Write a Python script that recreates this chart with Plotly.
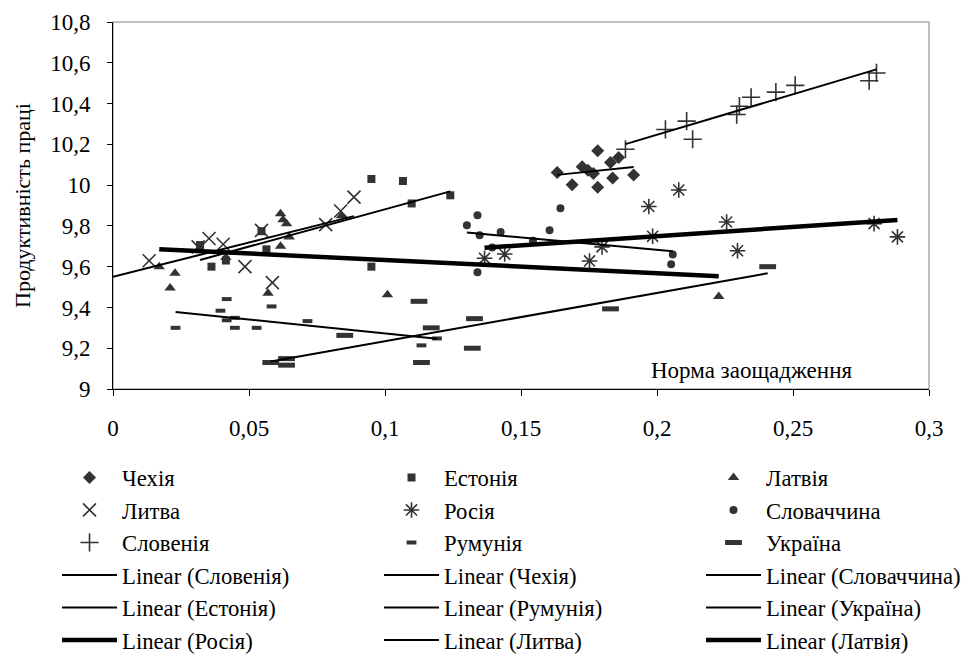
import numpy as np
import plotly.graph_objects as go

# ---------------- data ----------------
czech_x = [0.1633, 0.1688, 0.1725, 0.1746, 0.1766, 0.1782, 0.1782, 0.1829, 0.1837, 0.1859, 0.1914]
czech_y = [10.062, 10.002, 10.090, 10.073, 10.057, 10.168, 9.989, 10.111, 10.035, 10.135, 10.049]

estonia_x = [0.0320, 0.0362, 0.0415, 0.0546, 0.0564, 0.0950, 0.0950, 0.1066, 0.1098, 0.1240]
estonia_y = [9.706, 9.600, 9.630, 9.774, 9.685, 10.030, 9.600, 10.020, 9.910, 9.950]

latvia_x = [0.0170, 0.0210, 0.0228, 0.0415, 0.0570, 0.0616, 0.0616, 0.0625, 0.0638, 0.0648, 0.0840, 0.1009, 0.2227]
latvia_y = [9.600, 9.495, 9.568, 9.645, 9.470, 9.700, 9.860, 9.830, 9.810, 9.746, 9.850, 9.462, 9.454]

lithuania_x = [0.0133, 0.0313, 0.0353, 0.0405, 0.0485, 0.0546, 0.0586, 0.0782, 0.0837, 0.0886]
lithuania_y = [9.629, 9.697, 9.738, 9.710, 9.600, 9.778, 9.522, 9.806, 9.873, 9.941]

russia_x = [0.1366, 0.1440, 0.1752, 0.1798, 0.1970, 0.1984, 0.2080, 0.2256, 0.2296, 0.2798, 0.2884]
russia_y = [9.641, 9.662, 9.628, 9.697, 9.895, 9.749, 9.976, 9.819, 9.678, 9.811, 9.746]

slovakia_x = [0.1301, 0.1340, 0.1340, 0.1348, 0.1394, 0.1425, 0.1544, 0.1605, 0.1645, 0.2052, 0.2058]
slovakia_y = [9.803, 9.852, 9.573, 9.754, 9.694, 9.770, 9.727, 9.779, 9.887, 9.612, 9.660]

slovenia_x = [0.1884, 0.2031, 0.2109, 0.2131, 0.2293, 0.2303, 0.2346, 0.2437, 0.2508, 0.2780, 0.2807]
slovenia_y = [10.176, 10.273, 10.314, 10.225, 10.346, 10.387, 10.431, 10.456, 10.489, 10.512, 10.550]

romania_x = [0.0230, 0.0395, 0.0418, 0.0418, 0.0448, 0.0448, 0.0528, 0.0583, 0.0715, 0.1134, 0.1191]
romania_y = [9.300, 9.384, 9.441, 9.337, 9.349, 9.300, 9.300, 9.405, 9.333, 9.214, 9.248]

ukraine_x = [0.0580, 0.0638, 0.0638, 0.0852, 0.1125, 0.1134, 0.1170, 0.1321, 0.1329, 0.1829, 0.2407]
ukraine_y = [9.130, 9.149, 9.117, 9.263, 9.430, 9.130, 9.300, 9.200, 9.345, 9.393, 9.600]

series_names = ["Чехія", "Естонія", "Латвія", "Литва", "Росія", "Словаччина",
                "Словенія", "Румунія", "Україна"]
series_x = [czech_x, estonia_x, latvia_x, lithuania_x, russia_x, slovakia_x,
            slovenia_x, romania_x, ukraine_x]
series_y = [czech_y, estonia_y, latvia_y, lithuania_y, russia_y, slovakia_y,
            slovenia_y, romania_y, ukraine_y]

# order of trendlines in the legend
trend_order = ["Словенія", "Чехія", "Словаччина", "Естонія", "Румунія",
               "Україна", "Росія", "Литва", "Латвія"]
# Excel trendline option "forecast backward" (extends line to this x)
trend_backward_to = {"Литва": 0.0}

x_ticks = [0, 0.05, 0.1, 0.15, 0.2, 0.25, 0.3]
y_ticks = [9, 9.2, 9.4, 9.6, 9.8, 10, 10.2, 10.4, 10.6, 10.8]

# ---------------- styles ----------------
MC = "#333333"
FONT = "Liberation Serif"
marker_styles = {
    "Чехія": dict(symbol="diamond", size=10, color=MC),
    "Естонія": dict(symbol="square", size=8, color=MC),
    "Латвія": dict(symbol="triangle-up", size=10, color=MC),
    "Литва": dict(symbol="x-thin-open", size=13, color=MC, line=dict(width=1.6, color=MC)),
    "Росія": dict(symbol="asterisk-open", size=13, color=MC, line=dict(width=1.6, color=MC)),
    "Словаччина": dict(symbol="circle", size=8, color=MC),
    "Словенія": dict(symbol="cross-thin-open", size=13, color=MC, line=dict(width=1.6, color=MC)),
    "Румунія": dict(symbol="line-ew-open", size=7, color=MC, line=dict(width=4, color=MC)),
    "Україна": dict(symbol="line-ew-open", size=12, color=MC, line=dict(width=5, color=MC)),
}
thick = {"Росія", "Латвія"}
legends = ["legend", "legend2", "legend3"]

fig = go.Figure()

for i, name in enumerate(series_names):
    fig.add_trace(go.Scatter(
        x=series_x[i], y=series_y[i], mode="markers", name=name,
        marker=marker_styles[name], legend=legends[i % 3], cliponaxis=False,
    ))

for i, name in enumerate(trend_order):
    k = series_names.index(name)
    xs = np.array(series_x[k]); ys = np.array(series_y[k])
    b, a = np.polyfit(xs, ys, 1)
    x0 = trend_backward_to.get(name, xs.min())
    x1 = xs.max()
    fig.add_trace(go.Scatter(
        x=[x0, x1], y=[a + b * x0, a + b * x1], mode="lines",
        name=f"Linear ({name})",
        line=dict(color="black", width=4.5 if name in thick else 2),
        legend=legends[i % 3],
    ))

legend_common = dict(
    orientation="v", yanchor="top", xanchor="left", y=-0.183,
    font=dict(family=FONT, size=22.7, color="black"),
    bgcolor="rgba(0,0,0,0)", itemwidth=55, tracegroupgap=0, traceorder="normal",
)

fig.update_layout(
    width=972, height=649,
    margin=dict(l=105, r=51, t=14, b=268, autoexpand=False),
    paper_bgcolor="white", plot_bgcolor="white",
    separators=", ",
    font=dict(family=FONT, size=23, color="black"),
    showlegend=True,
    legend=dict(x=-0.0686, **legend_common),
    legend2=dict(x=0.326, **legend_common),
    legend3=dict(x=0.7206, **legend_common),
    xaxis=dict(range=[0, 0.3], tickvals=x_ticks, ticks="outside", ticklen=6,
               tickcolor="black", showline=True, linecolor="black", linewidth=1,
               showgrid=False, zeroline=False, automargin=False,
               ticklabelstandoff=12,
               tickfont=dict(family=FONT, size=23, color="black")),
    yaxis=dict(range=[9, 10.8], tickvals=y_ticks, ticks="outside", ticklen=5,
               tickcolor="black", showline=True, linecolor="black", linewidth=1,
               showgrid=False, zeroline=False, automargin=False,
               ticklabelstandoff=12,
               title=dict(text="Продуктивність праці", standoff=13,
                          font=dict(family=FONT, size=22, color="black")),
               tickfont=dict(family=FONT, size=23, color="black")),
    shapes=[dict(type="rect", xref="paper", yref="paper", x0=0, y0=0, x1=1, y1=1,
                 line=dict(color="#808080", width=1), layer="below")],
    annotations=[dict(text="Норма заощадження", xref="paper", yref="paper",
                      x=0.783, y=0.05, xanchor="center", yanchor="middle",
                      showarrow=False, font=dict(family=FONT, size=23, color="black"))],
)

fig.write_html("out.html")
